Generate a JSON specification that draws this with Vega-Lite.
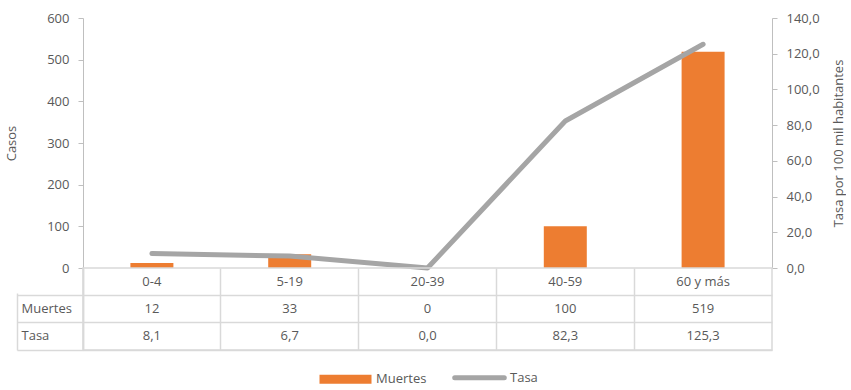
{
  "$schema": "https://vega.github.io/schema/vega-lite/v6.json",
  "padding": {"left": 5, "right": 0, "top": 12, "bottom": 0},
  "spacing": 0,
  "bounds": "flush",
  "config": {
    "locale": {"number": {"decimal": ",", "thousands": ".", "grouping": [3], "currency": ["", ""]}},
    "font": "Open Sans",
    "view": {"stroke": null},
    "axis": {"labelFont": "Open Sans", "labelFontSize": 13, "labelColor": "#595959", "titleFont": "Open Sans", "titleFontSize": 13, "titleFontWeight": "normal", "titleColor": "#595959", "domainColor": "#bfbfbf", "tickColor": "#bfbfbf", "grid": false},
    "text": {"font": "Open Sans", "fontSize": 13, "color": "#595959"}
  },
  "datasets": {
    "d": [
      {"grupo": "0-4", "Muertes": 12, "Tasa": 8.1},
      {"grupo": "5-19", "Muertes": 33, "Tasa": 6.7},
      {"grupo": "20-39", "Muertes": 0, "Tasa": 0.0},
      {"grupo": "40-59", "Muertes": 100, "Tasa": 82.3},
      {"grupo": "60 y más", "Muertes": 519, "Tasa": 125.3}
    ]
  },
  "vconcat": [
    {
      "width": 689,
      "height": 250,
      "data": {"name": "d"},
      "encoding": {
        "x": {"field": "grupo", "type": "nominal", "sort": null, "scale": {"type": "band", "paddingInner": 0, "paddingOuter": 0}, "axis": null}
      },
      "layer": [
        {
          "mark": {"type": "bar", "width": {"band": 0.312}},
          "encoding": {
            "y": {"field": "Muertes", "type": "quantitative", "scale": {"domain": [0, 600]},
              "axis": {"title": "Casos", "values": [0, 100, 200, 300, 400, 500, 600], "tickSize": 5, "labelPadding": 9, "titlePadding": 28}},
            "color": {"datum": "Muertes", "type": "nominal",
              "scale": {"domain": ["Muertes", "Tasa"], "range": ["#ED7D31", "#A5A5A5"]},
              "legend": {
                "orient": "none", "legendX": 256, "legendY": 353, "direction": "horizontal", "title": null,
                "symbolSize": 256, "labelOffset": 24, "columnPadding": 17,
                "labelFontSize": 13, "labelColor": "#595959", "labelFont": "Open Sans",
                "encode": {
                  "symbols": {
                    "update": {
                      "shape": {"signal": "datum.value === 'Tasa' ? 'M-3.1,0H3.1' : 'M-3.25,-0.56H3.25V0.56H-3.25Z'"},
                      "fill": {"signal": "datum.value === 'Tasa' ? 'transparent' : '#ED7D31'"},
                      "stroke": {"signal": "datum.value === 'Tasa' ? '#A5A5A5' : 'transparent'"},
                      "strokeWidth": {"signal": "datum.value === 'Tasa' ? 5 : 0"},
                      "strokeCap": {"value": "round"},
                      "opacity": {"value": 1}
                    }
                  }
                }
              }
            }
          }
        },
        {
          "mark": {"type": "line", "strokeWidth": 5, "strokeCap": "round", "strokeJoin": "round"},
          "encoding": {
            "y": {"field": "Tasa", "type": "quantitative", "scale": {"domain": [0, 140]},
              "axis": {"orient": "right", "title": "Tasa por 100 mil habitantes", "values": [0, 20, 40, 60, 80, 100, 120, 140], "format": ".1f", "tickSize": 5, "labelPadding": 9, "titlePadding": 26, "titleAngle": 270}},
            "color": {"datum": "Tasa", "type": "nominal"}
          }
        }
      ],
      "resolve": {"scale": {"y": "independent"}}
    },
    {
      "width": 689,
      "height": 82,
      "view": {"stroke": "#d9d9d9", "strokeWidth": 1.5},
      "data": {"name": "d"},
      "encoding": {
        "x": {"field": "grupo", "type": "nominal", "sort": null, "scale": {"type": "band", "paddingInner": 0, "paddingOuter": 0},
          "axis": {"grid": true, "bandPosition": 0, "gridColor": "#d9d9d9", "gridWidth": 1.5, "labels": false, "ticks": false, "domain": false, "title": null}}
      },
      "layer": [
        {
          "layer": [
            {
              "mark": {"type": "text"},
              "encoding": {
                "y": {"datum": "G", "type": "nominal", "scale": {"type": "band", "domain": ["G", "Muertes", "Tasa"], "paddingInner": 0, "paddingOuter": 0},
                  "axis": {"title": null, "bandPosition": 1, "grid": true, "gridColor": "#d9d9d9", "gridWidth": 1.5, "tickSize": 66, "tickColor": "#d9d9d9", "tickWidth": 1.5, "domainColor": "#d9d9d9", "domainWidth": 1.5, "labelAlign": "left", "labelPadding": -4, "labelExpr": "datum.value == 'G' ? '' : datum.value"}},
                "text": {"field": "grupo"}
              }
            },
            {
              "mark": {"type": "text"},
              "encoding": {
                "y": {"datum": "Muertes", "type": "nominal"},
                "text": {"field": "Muertes", "type": "quantitative", "format": "d"}
              }
            },
            {
              "mark": {"type": "text"},
              "encoding": {
                "y": {"datum": "Tasa", "type": "nominal"},
                "text": {"field": "Tasa", "type": "quantitative", "format": ".1f"}
              }
            }
          ]
        },
        {
          "mark": {"type": "text", "opacity": 0},
          "encoding": {
            "y": {"datum": "Tasa", "type": "nominal", "scale": {"type": "band", "domain": ["G", "Muertes", "Tasa"], "paddingInner": 0, "paddingOuter": 0},
              "axis": {"orient": "left", "offset": 66, "labels": false, "ticks": false, "title": null, "grid": false, "domainColor": "#d9d9d9", "domainWidth": 1.5, "domainDash": [57, 25], "domainDashOffset": 57}},
            "text": {"value": ""}
          }
        }
      ],
      "resolve": {"scale": {"y": "independent"}}
    }
  ]
}
